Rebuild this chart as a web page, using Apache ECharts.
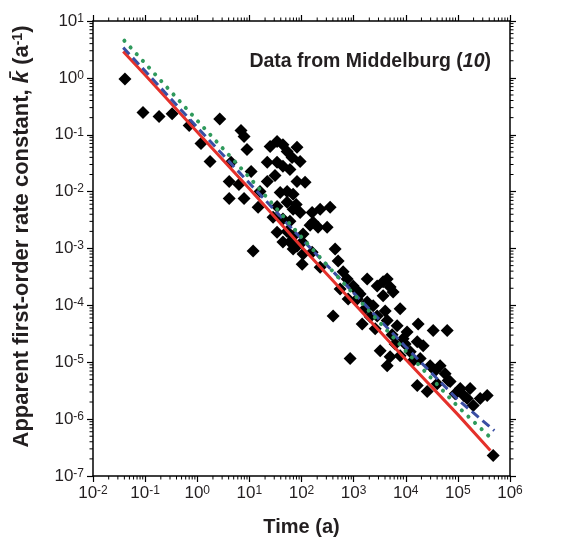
<!DOCTYPE html>
<html><head><meta charset="utf-8">
<script src="https://cdn.jsdelivr.net/npm/echarts@6/dist/echarts.min.js"></script>
<style>html,body{margin:0;padding:0;background:#fff}#c{width:572px;height:542px}</style>
</head><body><div id="c"></div>
<script>
// Data points (time in years, apparent rate constant in 1/a)
const pointT = [0.041,0.091,0.185,0.33,0.70,1.18,1.76,2.7,4.45,4.1,4.1,6.9,7.9,9.0,7.9,6.3,10.8,11.8,
  25,34,53,82,22,34,44,60,82,117,39,53,69,22,16,44,66,94,31,
  14.7,34,53,69,94,160,228,354,28.5,44,60,34,53,69,107,167,208,310,44,60,82,103,69,107,160,103,228,504,629,750,980,
  404,1460,857,1820,2830,3680,4400,5020,5730,3680,1820,2370,1170,7810,2830,4400,6840,10600,8900,16600,21600,33600,62300,17300,
  3230,5020,4400,7810,12200,29400,45700,71100,111000,172000,365000,16600,25800,40100,130000,151000,197000,476000,
  442,1170,1660,2590,6260,13900,57000,88700,268000,
  551,784,1334,2075,4030,5480,9730,18900,36600,65200,146,79];
const pointK = [0.96,0.245,0.21,0.235,0.145,0.070,0.034,0.19,0.033,0.015,0.0076,0.119,0.093,0.055,0.0076,0.0134,0.0227,9.0e-4,
  0.062,0.076,0.051,0.060,0.033,0.033,0.028,0.0246,0.0151,0.0146,0.0097,0.0101,0.009,0.0151,0.0101,0.067,0.040,0.034,0.0193,
  0.0053,0.0055,0.0065,0.0049,0.0043,0.0043,0.0049,0.0053,0.00355,0.0033,0.0030,0.00194,0.0020,0.00165,0.00179,0.0029,0.00237,0.00237,0.0013,0.0013,0.0011,0.0013,9.8e-4,8.0e-4,8.6e-4,5.3e-4,4.7e-4,6.0e-4,3.9e-4,2.9e-4,2.2e-4,
  6.5e-5,4.7e-5,1.16e-5,2.9e-4,2.2e-4,2.6e-4,2.9e-4,2.1e-4,1.72e-4,1.47e-4,1.15e-4,9.8e-5,1.3e-4,8.7e-5,6.5e-5,5.4e-5,4.4e-5,3.4e-5,2.6e-5,2.3e-5,1.95e-5,3.6e-5,3.6e-5,4.7e-5,
  1.6e-5,1.25e-5,8.7e-6,1.3e-5,1.53e-5,8.7e-6,8.7e-6,4.6e-6,3.45e-6,3.45e-6,2.6e-6,3.9e-6,3.05e-6,4.2e-6,2.6e-6,2.3e-6,1.74e-6,2.3e-7,
  9.8e-4,1.8e-4,8.7e-5,3.9e-5,2.1e-5,1.07e-5,6.3e-6,2.8e-6,2.3e-6,
  1.95e-4,1.3e-4,1.59e-4,6.3e-5,8.0e-5,3.05e-5,2.1e-5,1.16e-5,7.1e-6,4.8e-6,2.56e-3,5.96e-3];

// Model curves
const redT = [0.038,0.1,1,10,100,1000,1e4,1e5,4.2e5];
const redK = [2.9,1.12,0.112,0.0112,1.07e-3,1.1e-4,1.12e-5,1.2e-6,2.8e-7];
const blueT = [0.038,0.1,1,10,100,1000,1e4,1e5,5e5];
const blueK = [3.4,1.32,0.135,0.0141,1.48e-3,1.66e-4,1.86e-5,2.2e-6,6.3e-7];
const greenT = [0.04,0.1,1,10,100,1000,1e4,1e5,4.7e5];
const greenK = [4.5,1.8,0.178,0.0178,1.58e-3,1.58e-4,1.58e-5,1.66e-6,4.3e-7];

// Axis ranges (decade exponents)
const xExpMin = -2, xExpMax = 6;
const yExpMin = -7, yExpMax = 1;

const zip = (a, b) => a.map((v, i) => [v, b[i]]);
const xMin = Math.pow(10, xExpMin), xMax = Math.pow(10, xExpMax);
const yMin = Math.pow(10, yExpMin), yMax = Math.pow(10, yExpMax);

const minorX = [], minorY = [];
for (let e = xExpMin; e < xExpMax; e++) for (let m = 2; m <= 9; m++) minorX.push([m * Math.pow(10, e), 1]);
for (let e = yExpMin; e < yExpMax; e++) for (let m = 2; m <= 9; m++) minorY.push([1, m * Math.pow(10, e)]);

const FONT = '"Liberation Sans", Arial, Helvetica, sans-serif';
const INK = '#231f20';
const labelRich = {
  b: { fontSize: 17, fontFamily: FONT, color: INK, lineHeight: 17, verticalAlign: 'bottom' },
  s: { fontSize: 12, fontFamily: FONT, color: INK, lineHeight: 12, verticalAlign: 'top', padding: [0, 0, 9, 0] }
};
const fmt = v => '{b|10}{s|' + Math.round(Math.log10(v)) + '}';

function axisCommon(pos, showLabel) {
  const horiz = pos === 'bottom' || pos === 'top';
  return {
    type: 'log', logBase: 10, position: pos,
    min: horiz ? xMin : yMin,
    max: horiz ? xMax : yMax,
    interval: 1,
    axisLine: { show: true, onZero: false, lineStyle: { color: '#000', width: 1.5 } },
    axisTick: { show: true, inside: false, length: 6, lineStyle: { color: '#000', width: 1.2 } },
    minorTick: { show: false },
    splitLine: { show: false },
    axisLabel: { show: showLabel, formatter: fmt, rich: labelRich, margin: 9 }
  };
}

const chart = echarts.init(document.getElementById('c'));
const xBottom = axisCommon('bottom', true);
xBottom.name = 'Time (a)';
xBottom.nameLocation = 'middle';
xBottom.nameGap = 41;
xBottom.nameTextStyle = { fontSize: 20, fontWeight: 'bold', fontFamily: FONT, color: INK };
const yLeft = axisCommon('left', true);
yLeft.name = '{t|Apparent first-order rate constant, }{k|k\u0304}{t| (a}{s|-1}{t|)}';
yLeft.nameLocation = 'middle';
yLeft.nameGap = 60;
yLeft.nameRotate = 90;
yLeft.nameTextStyle = {
  padding: [0, 0, 0, 24],
  rich: {
    t: { fontSize: 22, fontWeight: 'bold', fontFamily: FONT, color: INK, lineHeight: 22, verticalAlign: 'bottom' },
    k: { fontSize: 22, fontWeight: 'bold', fontStyle: 'italic', fontFamily: FONT, color: INK, lineHeight: 22, verticalAlign: 'bottom' },
    s: { fontSize: 14, fontWeight: 'bold', fontFamily: FONT, color: INK, lineHeight: 14, verticalAlign: 'top', padding: [0, 0, 10, 0] }
  }
};
const xTop = axisCommon('top', false);
const yRight = axisCommon('right', false);

function tickRender(horizontal) {
  return function (params, api) {
    const L = 3.5;
    const st = { stroke: '#000', lineWidth: 1 };
    if (horizontal) {
      const v = api.value(0);
      const b = api.coord([v, yMin]), t = api.coord([v, yMax]);
      return { type: 'group', children: [
        { type: 'line', shape: { x1: b[0], y1: b[1], x2: b[0], y2: b[1] + L }, style: st },
        { type: 'line', shape: { x1: t[0], y1: t[1], x2: t[0], y2: t[1] - L }, style: st }
      ] };
    } else {
      const v = api.value(1);
      const l = api.coord([xMin, v]), r = api.coord([xMax, v]);
      return { type: 'group', children: [
        { type: 'line', shape: { x1: l[0], y1: l[1], x2: l[0] - L, y2: l[1] }, style: st },
        { type: 'line', shape: { x1: r[0], y1: r[1], x2: r[0] + L, y2: r[1] }, style: st }
      ] };
    }
  };
}

chart.setOption({
  animation: false,
  backgroundColor: '#fff',
  grid: { left: 93, right: 62, top: 21, bottom: 64, containLabel: false },
  title: {
    text: '{b|Data from Middelburg (}{i|10}{b|)}',
    right: 76, top: 47,
    textStyle: { rich: {
      b: { fontSize: 19.5, fontWeight: 'bold', fontFamily: FONT, color: INK },
      i: { fontSize: 19.5, fontWeight: 'bold', fontStyle: 'italic', fontFamily: FONT, color: INK }
    } }
  },
  xAxis: [xBottom, xTop],
  yAxis: [yLeft, yRight],
  series: [
    { type: 'custom', xAxisIndex: 0, yAxisIndex: 0, data: minorX, renderItem: tickRender(true), silent: true, z: 1 },
    { type: 'custom', xAxisIndex: 0, yAxisIndex: 0, data: minorY, renderItem: tickRender(false), silent: true, z: 1 },
    { type: 'scatter', xAxisIndex: 0, yAxisIndex: 0, data: zip(pointT, pointK), symbol: 'diamond', symbolSize: 13,
      itemStyle: { color: '#000', opacity: 1 }, z: 2 },
    { type: 'line', xAxisIndex: 0, yAxisIndex: 0, data: zip(redT, redK), showSymbol: false, symbol: 'none',
      lineStyle: { color: '#e4312b', width: 3 }, z: 3 },
    { type: 'line', xAxisIndex: 0, yAxisIndex: 0, data: zip(blueT, blueK), showSymbol: false, symbol: 'none',
      lineStyle: { color: '#3a4ea3', width: 3, type: [9, 5] }, z: 4 },
    { type: 'line', xAxisIndex: 0, yAxisIndex: 0, data: zip(greenT, greenK), showSymbol: false, symbol: 'none',
      lineStyle: { color: '#2f9a5c', width: 4, type: [0.1, 9], cap: 'round' }, z: 5 }
  ]
});
</script></body></html>
